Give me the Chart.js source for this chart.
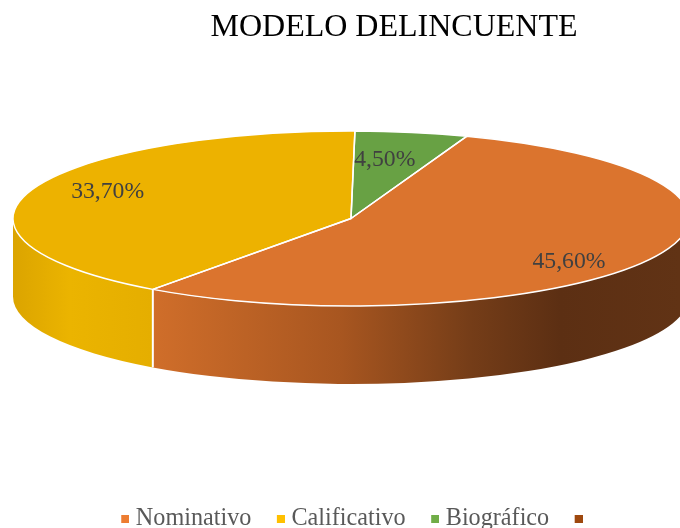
<!DOCTYPE html>
<html>
<head>
<meta charset="utf-8">
<script src="https://cdn.jsdelivr.net/npm/chart.js@4"></script>
<style>
  html, body { margin: 0; padding: 0; background: #fff; }
  #wrap { width: 680px; height: 528px; }
</style>
</head>
<body>
<div id="wrap"><canvas id="pie3d" width="680" height="528"></canvas></div>
<script>
const categories = ["Nominativo", "Calificativo", "Biográfico", ""];
const values = [45.6, 33.7, 4.5, 0];
const valueLabels = ["45,60%", "33,70%", "4,50%", ""];

const sliceColors = ["#DB742E", "#EDB200", "#68A144", "#8F4A14"];
const legendColors = ["#ED7D31", "#FFC000", "#70AD47", "#9E480E"];

// 3D look: where the pie sits, how flat it is, how tall the wall is
const centerX = 351;
const centerY = 218.5;
const radiusX = 338;
const flatten = 87.5 / 338;
const wallHeight = 78;
// label position as fraction of the ellipse radii
const labelOffsets = [[0.645, 0.49], [-0.72, -0.31], [0.1, -0.67]];

// wall shading per slice, same order as categories
const wallStops = [
  [[152, "#D06E2A"], [340, "#A85620"], [470, "#753D18"], [560, "#5C2F13"], [680, "#613315"]],
  [[13, "#DBA400"], [70, "#EBB400"], [152, "#E5AE00"]],
];

function drawWall(ctx, from, to, stops) {
  const a = Math.max(from, 0);
  const b = Math.min(to, Math.PI);
  if (b <= a) return;
  const last = stops[stops.length - 1][0];
  const grad = ctx.createLinearGradient(stops[0][0], 0, last, 0);
  stops.forEach((s) => grad.addColorStop((s[0] - stops[0][0]) / (last - stops[0][0]), s[1]));
  ctx.beginPath();
  ctx.ellipse(centerX, centerY, radiusX, radiusX * flatten, 0, a, b);
  ctx.ellipse(centerX, centerY + wallHeight, radiusX, radiusX * flatten, 0, b, a, true);
  ctx.closePath();
  ctx.fillStyle = grad;
  ctx.fill();
}

// legend swatch sits closer to its text than Chart.js allows, so pad it on the left
function swatch(color) {
  const c = document.createElement("canvas");
  c.width = 12;
  c.height = 8;
  const g = c.getContext("2d");
  g.fillStyle = color;
  g.fillRect(4, 0, 8, 8);
  return c;
}

const pie3d = {
  id: "pie3d",
  afterLayout(chart) {
    // title and legend are not centred on the canvas in the original
    const t = chart.titleBlock;
    t.left += 54; t.right += 54;
    t.top += 2; t.bottom += 2;
    const l = chart.legend;
    l.left += 16; l.right += 16;
    l.top += 13; l.bottom += 13;
  },
  beforeDatasetsDraw(chart) {
    const ctx = chart.ctx;
    const arcs = chart.getDatasetMeta(0).data;
    // walls first, then the squashed top
    ctx.save();
    wallStops.forEach((stops, i) => drawWall(ctx, arcs[i].startAngle, arcs[i].endAngle, stops));
    // white line down the wall where the slices meet
    const seam = arcs[0].endAngle;
    const sx = centerX + radiusX * Math.cos(seam);
    const sy = centerY + radiusX * flatten * Math.sin(seam);
    ctx.strokeStyle = "#fff";
    ctx.lineWidth = 2;
    ctx.beginPath();
    ctx.moveTo(sx, sy);
    ctx.lineTo(sx, sy + wallHeight);
    ctx.stroke();
    ctx.restore();

    ctx.save();
    ctx.translate(centerX, centerY);
    ctx.scale(1, flatten);
    ctx.translate(-arcs[0].x, -arcs[0].y);
  },
  afterDatasetsDraw(chart) {
    const ctx = chart.ctx;
    ctx.restore();
    const arcs = chart.getDatasetMeta(0).data;

    // slice outlines, drawn unscaled so the line keeps its width
    ctx.save();
    ctx.strokeStyle = "#fff";
    ctx.lineWidth = 1.5;
    ctx.lineJoin = "round";
    arcs.slice(0, 3).forEach((arc) => {
      ctx.beginPath();
      ctx.moveTo(centerX, centerY);
      ctx.ellipse(centerX, centerY, radiusX, radiusX * flatten, 0, arc.startAngle, arc.endAngle);
      ctx.closePath();
      ctx.stroke();
    });
    ctx.restore();

    // value labels
    ctx.save();
    ctx.font = '23.7px "Liberation Serif"';
    ctx.fillStyle = "#404040";
    ctx.textAlign = "center";
    ctx.textBaseline = "middle";
    labelOffsets.forEach((o, i) => {
      ctx.fillText(valueLabels[i], centerX + o[0] * radiusX, centerY + o[1] * radiusX * flatten);
    });
    ctx.restore();
  },
};

new Chart(document.getElementById("pie3d"), {
  type: "pie",
  plugins: [pie3d],
  data: {
    labels: categories,
    datasets: [{
      data: values,
      backgroundColor: sliceColors,
      borderWidth: 0,
      clip: false,
    }],
  },
  options: {
    responsive: false,
    animation: false,
    rotation: 20,
    radius: radiusX,
    layout: { padding: 0 },
    plugins: {
      tooltip: { enabled: false },
      title: {
        display: true,
        text: "MODELO DELINCUENTE",
        color: "#000",
        font: { family: '"Liberation Serif"', size: 32, weight: "normal" },
        padding: { top: 6, bottom: 6 },
      },
      legend: {
        position: "bottom",
        labels: {
          usePointStyle: true,
          boxWidth: 1,
          boxHeight: 8,
          padding: 27,
          font: { family: '"Liberation Serif"', size: 24.2 },
          generateLabels() {
            return categories.map((c, i) => ({
              text: c,
              fontColor: "#595959",
              fillStyle: legendColors[i],
              strokeStyle: legendColors[i],
              lineWidth: 0,
              pointStyle: swatch(legendColors[i]),
              index: i,
            }));
          },
        },
      },
    },
  },
});
</script>
</body>
</html>
